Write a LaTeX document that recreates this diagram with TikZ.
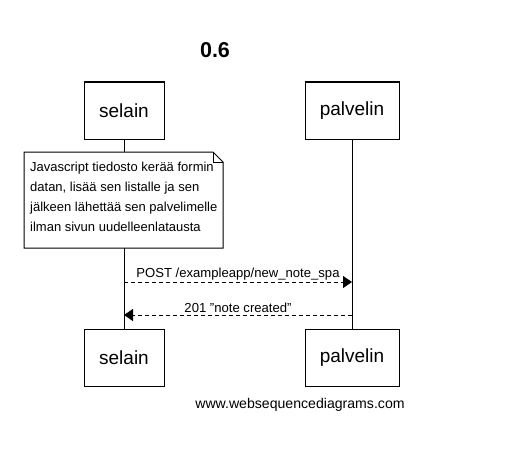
\documentclass[tikz,border=0pt]{standalone}
\usepackage{fontspec}
\setmainfont{Liberation Sans}
\usetikzlibrary{arrows.meta}
\begin{document}
\begin{tikzpicture}[x=1pt,y=-1pt,
  actor/.style={draw,line width=1pt,minimum width=80pt,minimum height=57pt,inner sep=0pt,font=\fontsize{19}{22}\selectfont},
  msg/.style={dashed,line width=1pt,dash pattern=on 4pt off 3pt},
  lbl/.style={font=\fontsize{13.1}{15}\selectfont,inner sep=1.5pt}]
\useasboundingbox (0,0) rectangle (514,452);
\node[font=\bfseries\fontsize{21.5}{24}\selectfont] (title) at (215,50) {0.6};
\node[actor] (s1) at (124,110.5) {selain};
\node[actor,minimum width=94pt] (p1) at (352,110.5) {palvelin};
\node[actor] (s2) at (124,357.5) {selain};
\node[actor,minimum width=94pt] (p2) at (352,357.5) {palvelin};
\draw[line width=1pt] (s1) -- (s2);
\draw[line width=1pt] (p1) -- (p2);
\draw[line width=1pt,fill=white] (24,152) -- (213,152) -- (223,162) -- (223,248) -- (24,248) -- cycle;
\draw[line width=0.6pt] (213,152) -- (213,162) -- (223,162);
\node[anchor=north west,align=left,inner sep=0pt,font=\fontsize{13}{19.8}\selectfont] (note) at (30,162) {Javascript tiedosto kerää formin\\datan, lisää sen listalle ja sen\\jälkeen lähettää sen palvelimelle\\ilman sivun uudelleenlatausta};
\coordinate (a1) at (124,282);
\coordinate (b1) at (352,282);
\coordinate (a2) at (352,315);
\coordinate (b2) at (124,315);
\draw[msg,-{Triangle[length=9pt,width=12pt]}] (a1) -- node[lbl,above,pos=0.5] {POST /exampleapp/new\_note\_spa} (b1);
\draw[msg,-{Triangle[length=9pt,width=12pt]}] (a2) -- node[lbl,above,pos=0.5] {201 \symbol{34}note created\symbol{34}} (b2);
\node[font=\fontsize{14.1}{16}\selectfont] (footer) at (300,404.5) {www.websequencediagrams.com};
\end{tikzpicture}
\end{document}
